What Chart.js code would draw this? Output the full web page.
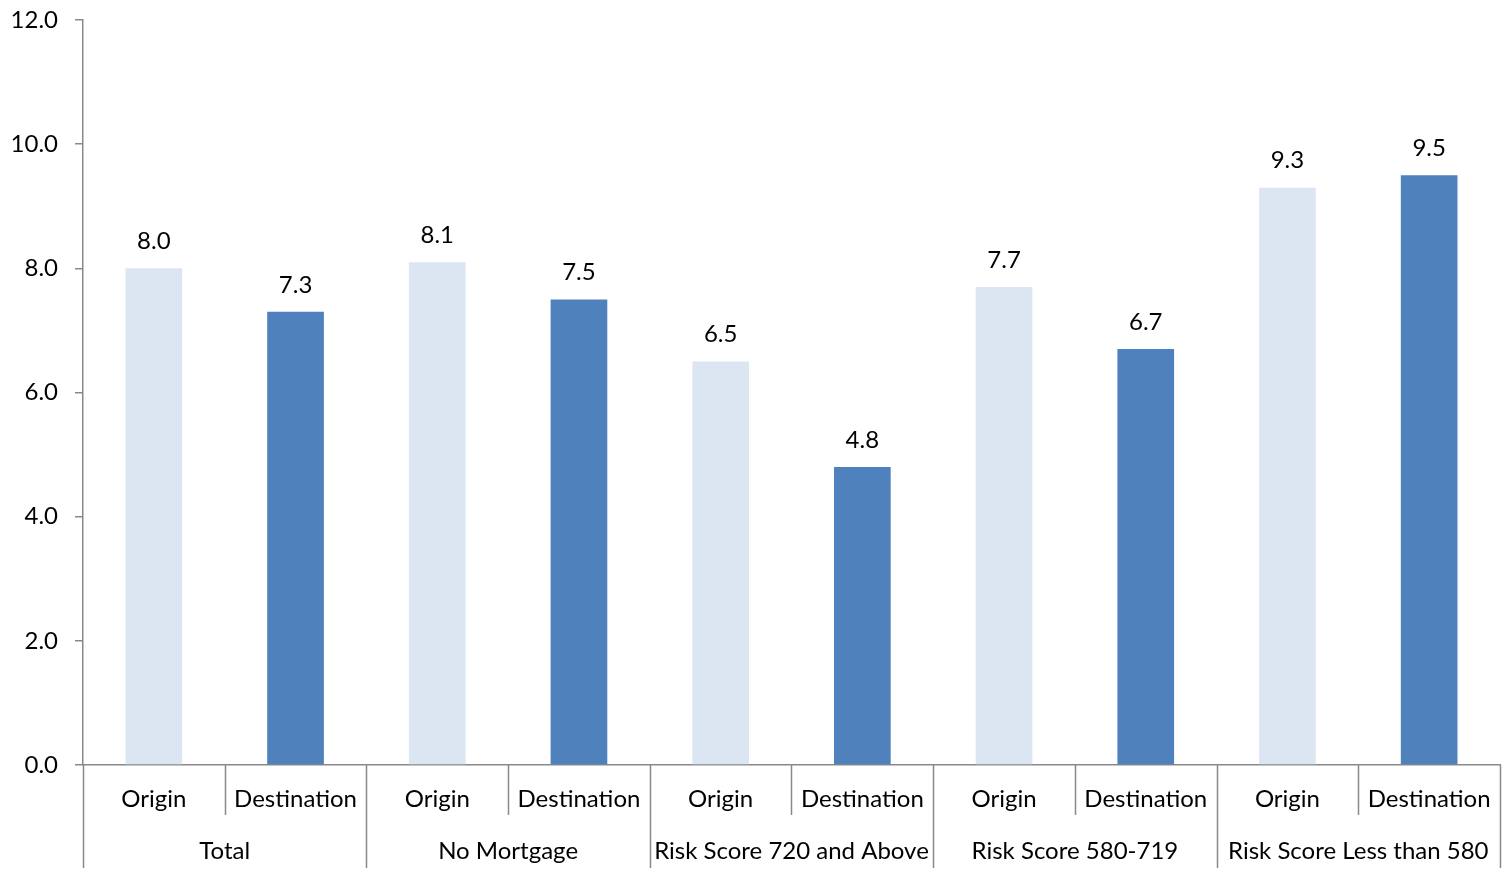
<!DOCTYPE html>
<html>
<head>
<meta charset="utf-8">
<title>Origin vs Destination</title>
<script src="https://cdn.jsdelivr.net/npm/chart.js@4.4.1/dist/chart.umd.min.js"></script>
<style>
  html, body { margin: 0; padding: 0; background: #ffffff; }
  #wrap { width: 1507px; height: 872px; position: relative; }
</style>
</head>
<body>
<div id="wrap"><canvas id="chart"></canvas></div>
<script>
// Groups along the x axis, each with an Origin and a Destination bar
const groups = ['Total', 'No Mortgage', 'Risk Score 720 and Above', 'Risk Score 580-719', 'Risk Score Less than 580'];
const pairLabels = ['Origin', 'Destination'];
const originValues = [8.0, 8.1, 6.5, 7.7, 9.3];
const destinationValues = [7.3, 7.5, 4.8, 6.7, 9.5];
const yTicks = [0, 2, 4, 6, 8, 10, 12];

const FONT = 'Lato, "Open Sans", sans-serif';
const LIGHT = '#DCE6F2';
const DARK = '#4F81BD';
const AXIS = '#898989';

// Flatten into one category per bar
const categories = [];
const values = [];
const colors = [];
groups.forEach((g, i) => {
  categories.push(pairLabels[0]); values.push(originValues[i]); colors.push(LIGHT);
  categories.push(pairLabels[1]); values.push(destinationValues[i]); colors.push(DARK);
});

// Value labels above bars
const valueLabels = {
  id: 'valueLabels',
  afterDatasetsDraw(chart) {
    const ctx = chart.ctx;
    const meta = chart.getDatasetMeta(0);
    ctx.save();
    ctx.font = '24px ' + FONT;
    ctx.fillStyle = '#000';
    ctx.textAlign = 'center';
    ctx.textBaseline = 'middle';
    meta.data.forEach((bar, i) => {
      ctx.fillText(values[i].toFixed(1), bar.x, bar.y - 27);
    });
    ctx.restore();
  }
};

// Two-level category axis: bar labels, group labels and separators
const groupAxis = {
  id: 'groupAxis',
  afterDraw(chart) {
    const ctx = chart.ctx;
    const x = chart.scales.x;
    const base = x.top;
    const half = (x.getPixelForTick(1) - x.getPixelForTick(0)) / 2;
    const start = x.getPixelForTick(0) - half;
    ctx.save();
    ctx.strokeStyle = AXIS;
    ctx.lineWidth = 1.5;
    for (let i = 0; i <= categories.length; i++) {
      const px = Math.round(start + i * 2 * half) + 0.5;
      const len = (i % 2 === 0) ? 103 : 50;
      ctx.beginPath();
      ctx.moveTo(px, base);
      ctx.lineTo(px, base + len);
      ctx.stroke();
    }
    ctx.font = '24px ' + FONT;
    ctx.fillStyle = '#000';
    ctx.textAlign = 'center';
    ctx.textBaseline = 'middle';
    categories.forEach((c, i) => {
      ctx.fillText(c, x.getPixelForTick(i), base + 34);
    });
    groups.forEach((g, i) => {
      const cx = (x.getPixelForTick(2 * i) + x.getPixelForTick(2 * i + 1)) / 2;
      ctx.fillText(g, cx, base + 86);
    });
    ctx.restore();
  }
};

new Chart(document.getElementById('chart'), {
  type: 'bar',
  data: {
    labels: categories,
    datasets: [{
      data: values,
      backgroundColor: colors,
      borderWidth: 0,
      barPercentage: 0.40,
      categoryPercentage: 1.0
    }]
  },
  options: {
    responsive: true,
    maintainAspectRatio: false,
    animation: false,
    layout: { padding: { top: 20, right: 7, left: 0, bottom: 0 } },
    plugins: {
      legend: { display: false },
      tooltip: { enabled: false }
    },
    scales: {
      x: {
        grid: { display: false },
        border: { display: true, color: AXIS, width: 1.5 },
        ticks: { display: false },
        afterFit(scale) { scale.height = 107; }
      },
      y: {
        min: 0,
        max: 12,
        afterBuildTicks(scale) { scale.ticks = yTicks.map(v => ({ value: v })); },
        grid: { drawOnChartArea: false, drawTicks: true, tickLength: 8, color: AXIS, lineWidth: 1.5 },
        border: { display: true, color: AXIS, width: 1.5 },
        ticks: {
          padding: 17,
          color: '#000',
          font: { family: FONT, size: 24, lineHeight: 0.1 },
          callback: v => Number(v).toFixed(1)
        },
        afterFit(scale) { scale.width = 83; }
      }
    }
  },
  plugins: [valueLabels, groupAxis]
});
</script>
</body>
</html>
